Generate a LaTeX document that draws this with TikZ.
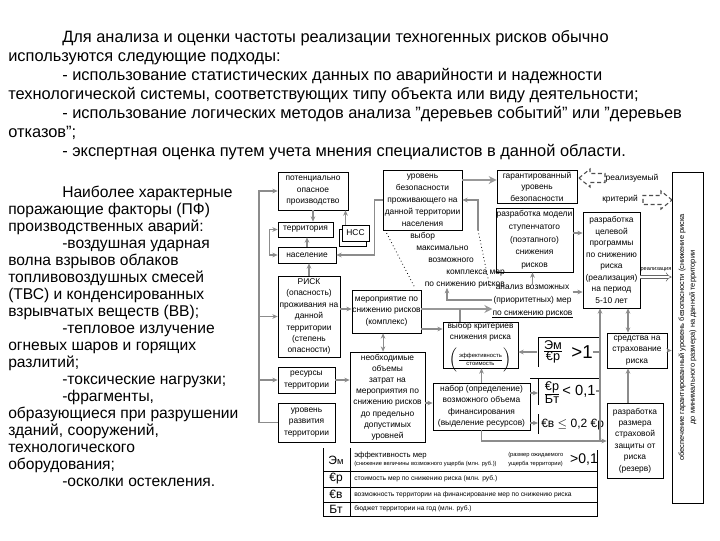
\documentclass[tikz,border=0pt]{standalone}
\usepackage{fontspec}
\setmainfont{Liberation Sans}
\usetikzlibrary{arrows.meta}

\tikzset{
  sz/.style 2 args={minimum width=#1*0.75pt, minimum height=#2*0.75pt},
  blk/.style={draw, line width=0.5pt, fill=white, inner sep=0pt, align=center, font=\fontsize{6.3}{8.6}\selectfont},
  lbl/.style={inner sep=0pt, align=center, font=\fontsize{6.3}{8.6}\selectfont},
  ptxt/.style={anchor=base west, inner sep=0pt, font=\fontsize{12.3}{14}\selectfont},
  ltxt/.style={anchor=base west, inner sep=0pt, font=\fontsize{11.7}{13}\selectfont},
  rowt/.style={anchor=west, inner sep=0pt, font=\fontsize{5}{6}\selectfont},
  sym/.style={inner sep=0pt, font=\fontsize{9}{10}\selectfont},
  ln/.style={draw=black!45, line width=0.8pt},
  arr/.style={ln, ->},
  biarr/.style={ln, <->},
  thkarr/.style={draw=black!40, line width=2pt, -{Stealth[length=6pt,width=6pt]}},
  frm/.style={draw=black, line width=0.5pt},
  holarrow/.style={draw=black!70, densely dashed, line width=0.8pt}
}

\begin{document}
\begin{tikzpicture}[x=0.75pt, y=-0.75pt, >={Stealth[length=4pt,width=3.5pt]}]
\useasboundingbox (0,0) rectangle (720,540);

% text above the scheme
\node[ptxt] (p1) at (62,42) {Для анализа и оценки частоты реализации техногенных рисков обычно};
\node[ptxt] (p2) at (8,61) {используются следующие подходы:};
\node[ptxt] (p3) at (62,80) {- использование статистических данных по аварийности и надежности};
\node[ptxt] (p4) at (8,99) {технологической системы, соответствующих типу объекта или виду деятельности;};
\node[ptxt] (p5) at (62,118) {- использование логических методов анализа "деревьев событий" или "деревьев};
\node[ptxt] (p6) at (8,137) {отказов";};
\node[ptxt] (p7) at (62,156) {- экспертная оценка путем учета мнения специалистов в данной области.};

% left column
\node[ltxt] (l0) at (62,197) {Наиболее характерные};
\node[ltxt] (l1) at (8,214) {поражающие факторы (ПФ)};
\node[ltxt] (l2) at (8,231) {производственных аварий:};
\node[ltxt] (l3) at (62,248) {-воздушная ударная};
\node[ltxt] (l4) at (8,265) {волна взрывов облаков};
\node[ltxt] (l5) at (8,282) {топливовоздушных смесей};
\node[ltxt] (l6) at (8,299) {(ТВС) и конденсированных};
\node[ltxt] (l7) at (8,316) {взрывчатых веществ (ВВ);};
\node[ltxt] (l8) at (62,333) {-тепловое излучение};
\node[ltxt] (l9) at (8,350) {огневых шаров и горящих};
\node[ltxt] (l10) at (8,367) {разлитий;};
\node[ltxt] (l11) at (62,384) {-токсические нагрузки;};
\node[ltxt] (l12) at (62,401) {-фрагменты,};
\node[ltxt] (l13) at (8,418) {образующиеся при разрушении};
\node[ltxt] (l14) at (8,435) {зданий, сооружений,};
\node[ltxt] (l15) at (8,452) {технологического};
\node[ltxt] (l16) at (8,469) {оборудования;};
\node[ltxt] (l17) at (62,486) {-осколки остекления.};

% boxes
\node[blk, sz={70}{38}] (pop) at (313,191) {потенциально\\опасное\\производство};
\node[blk, sz={55}{15}] (terr) at (305.5,229.5) {территория};
\draw[frm, fill=white] (339,229) rectangle (366,246);
\node[blk, sz={27}{16}] (nss) at (355.5,233) {НСС};
\node[blk, sz={58}{16}] (nas) at (307,255) {население};
\node[blk, sz={62}{81}] (risk) at (309,316.5) {РИСК\\(опасность)\\проживания на\\данной\\территории\\(степень\\опасности)};
\node[blk, sz={57}{26}] (res) at (306.5,380) {ресурсы\\территории};
\node[blk, sz={57}{39}] (dev) at (306.5,422.5) {уровень\\развития\\территории};
\node[blk, sz={79}{60}, font=\fontsize{6.3}{9}\selectfont] (lvl) at (422.5,200) {уровень\\безопасности\\проживающего на\\данной территории\\населения};
\node[blk, sz={69}{43}] (mer) at (386.5,311.5) {мероприятие по\\снижению рисков\\(комплекс)};
\node[blk, sz={75}{90}, font=\fontsize{6.3}{8.4}\selectfont] (need) at (387.5,397) {необходимые\\объемы\\затрат на\\мероприятия по\\снижению рисков\\до предельно\\допустимых\\уровней};
\node[blk, sz={75}{46}] (vyb) at (480.5,345) {};
\node[lbl, font=\fontsize{6.2}{8}\selectfont] (vybt) at (480.5,332) {выбор критериев\\снижения риска};
\node[lbl, font=\fontsize{4.4}{5}\selectfont] (vybf) at (480.5,360) {$\bigl(\frac{\mbox{эффективность}}{\mbox{стоимость}}\bigr)$};
\node[blk, sz={97}{47}] (nab) at (481.5,406.5) {набор (определение)\\возможного объема\\финансирования\\(выделение ресурсов)};
\node[blk, sz={77}{64}, font=\fontsize{6.3}{9.5}\selectfont] (mod) at (534.5,240) {разработка модели\\ступенчатого\\(поэтапного)\\снижения\\рисков};
\node[lbl, font=\fontsize{6.3}{9.5}\selectfont] (anl) at (532.5,301) {анализ возможных\\(приоритетных) мер\\по снижению рисков};
\draw[frm] (anl.south west) -- (anl.south east);
\node[blk, sz={80}{33}] (gar) at (537,186.5) {гарантированный\\уровень\\безопасности};
\node[blk, sz={57}{96}, font=\fontsize{6.3}{8.6}\selectfont] (prg) at (611.5,260) {разработка\\целевой\\программы\\по снижению\\риска\\(реализация)\\на период\\5-10 лет};
\node[blk, sz={60}{35}] (str) at (637,350.5) {средства на\\страхование\\риска};
\node[blk, sz={56}{75}] (rzm) at (635,440.5) {разработка\\размера\\страховой\\защиты от\\риска\\(резерв)};
\node[blk, sz={31}{331}] (big) at (687.5,337.5) {};
\node[lbl, rotate=90, font=\fontsize{5.6}{8}\selectfont] (bigt) at (big.center) {обеспечение гарантированный уровень безопасности (снижение риска\\до минимального размера) на данной территории};

% measures, slanted block
\coordinate (ptl) at (385,230);
\coordinate (ptr) at (478,230);
\coordinate (pbl) at (415,288);
\coordinate (pbr) at (490,288);
\coordinate (pb) at (447,288);
\draw[dotted, line width=0.6pt] (ptl) -- (pbl);
\draw[dotted, line width=0.6pt] (ptr) -- (pbr);
\node[lbl, anchor=north west, align=left, font=\fontsize{6.3}{9}\selectfont] (par) at (410,232) {выбор\\\hspace*{4.5pt}максимально\\\hspace*{13.5pt}возможного\\\hspace*{27pt}комплекса мер\\\hspace*{11pt}по снижению рисков};

% hollow dashed arrows
\node[lbl] (real) at (632,178) {реализуемый};
\coordinate (ha) at (579,178);
\coordinate (hb) at (672,200);
\draw[holarrow] (ha) -- (590,169) -- (590,173.5) -- (605,173.5) -- (605,182.5) -- (590,182.5) -- (590,187) -- (ha);
\node[lbl] (crit) at (620,199) {критерий};
\draw[holarrow] (hb) -- (661,191) -- (661,195.5) -- (643,195.5) -- (643,204.5) -- (661,204.5) -- (661,209) -- (hb);

% criteria
\node[sym, font=\fontsize{9.5}{11}\selectfont] (c1f) at (553,352) {$\frac{\mbox{Эм}}{\mbox{€р}}$};
\node[sym, font=\fontsize{14}{15}\selectfont] (c1g) at (582,352) {>1};
\node[sym, font=\fontsize{9.5}{11}\selectfont] (c2f) at (552,393) {$\frac{\mbox{€р}}{\mbox{Бт}}$};
\node[sym, font=\fontsize{11}{12}\selectfont] (c2g) at (579,391) {< 0,1};
\node[sym, font=\fontsize{9}{10}\selectfont, anchor=west] (c3) at (541,425) {€в $\leq$ 0,2 €р};
\draw[frm] (538,367) -- (538,337) -- (600,337);
\draw[frm] (530,378) -- (600,378);
\draw[frm] (538,378) -- (538,405);
\draw[frm] (538,414) -- (538,434);
\coordinate (c1l) at (537,352);
\coordinate (c2l) at (538,393);
\coordinate (c3l) at (538,423);

% table
\draw[frm] (323,448) -- (323,516) -- (597,516) -- (597,450);
\draw[frm] (350,448) -- (350,516);
\draw[frm] (323,471) -- (597,471);
\draw[frm] (323,487) -- (597,487);
\draw[frm] (323,502) -- (597,502);
\node[sym] (tem) at (336,460) {Э\fontsize{7}{8}\selectfont м};
\node[sym] (tcr) at (336,479) {€р};
\node[sym] (tcv) at (336,494.5) {€в};
\node[sym] (tbt) at (336,509) {Бт};
\node[rowt, font=\fontsize{5.8}{7}\selectfont] (r1a) at (354,455) {эффективность мер};
\node[rowt, font=\fontsize{4.3}{5}\selectfont] (r1b) at (354,463.5) {(снижение величины возможного ущерба (млн. руб.))};
\node[rowt, font=\fontsize{4.3}{5}\selectfont] (r1c) at (508,455) {(размер ожидаемого};
\node[rowt, font=\fontsize{4.3}{5}\selectfont] (r1d) at (508,463.5) {ущерба территории)};
\node[sym, font=\fontsize{10.5}{12}\selectfont] (r1g) at (584,459) {>0,1};
\node[rowt] (r2) at (354,479) {стоимость мер по снижению риска (млн. руб.)};
\node[rowt] (r3) at (354,494.5) {возможность территории на финансирование мер по снижению риска};
\node[rowt] (r4) at (354,509) {бюджет территории на год (млн. руб.)};

% helper levels
\coordinate (lft) at (259,0);
\coordinate (y180) at (0,180);
\coordinate (y233) at (0,233);
\coordinate (y277) at (0,277);
\coordinate (y292) at (0,292);
\coordinate (y300) at (0,300);
\coordinate (y309) at (0,309);
\coordinate (y329) at (0,329);
\coordinate (y403) at (0,403);
\coordinate (jx) at (460,309);
\coordinate (x628) at (628,0);
\coordinate (vl) at (600,441);

% connectors
\draw[arr] (pop.south) -- (pop.south |- terr.north);
\draw[arr] (nas.north) -- (nas.north |- terr.south);
\draw[arr] (risk.north) -- (risk.north |- nas.south);
\draw[arr] ([xshift=-7.5pt]nss.north) -- ([xshift=-7.5pt]nss.north |- pop.south);
\draw[biarr] (terr.west) -- ++(-8,0) |- (nas.west);
\draw[arr] (dev.west) -- (lft |- dev.west) |- (pop.west);
\draw[arr] (lft |- risk.west) -- (risk.west);
\draw[arr] (lft |- res.west) -- (res.west);
\draw[arr] (lvl.west) -- ++(-8,0) |- (nas.east);
\draw[thkarr] (lvl.east |- y180) -- (gar.west |- y180);
\draw[arr] (ptr) |- (lvl.east);
\draw[arr] (risk.east |- y309) -- (mer.west |- y309);
\draw[arr] (res.east) -- (res.east -| need.west);
\draw[biarr] ([xshift=-2.6pt]mer.south) -- ([xshift=-2.6pt]mer.south |- need.north);
\draw[thkarr] (mer.east |- y309) -- (anl.west |- y309);
\draw[arr] (anl.west |- y300) -| (pb);
\draw[ln] (jx) -- (jx |- vyb.north);
\draw[arr] (mer.east |- y329) -- (vyb.west |- y329);
\draw[arr] (need.east |- y403) -- (nab.west |- y403);
\draw[arr] (nab.north) -- (nab.north |- vyb.south);
\draw[arr] (anl.north) -- (anl.north |- mod.south);
\draw[arr] (mod.east |- y233) -- (prg.west |- y233);
\draw[arr] (anl.east |- y292) -- (prg.west |- y292);
\draw[draw=black!60, double, double distance=2pt, -{Implies}] (prg.east |- y277) -- (big.west |- y277);
\node[lbl, font=\fontsize{4.2}{5}\selectfont] (realz) at (656,270) {реализация};
\draw[biarr] (x628 |- prg.south) -- (x628 |- str.north);
\draw[arr] (x628 |- rzm.north) -- (x628 |- str.south);
\draw[arr] (str.east) -- (str.east -| big.west);
\draw[arr] (c1l) -- (c1l -| vyb.east);
\draw[arr] (nab.east |- c2l) -- (c2l);
\draw[arr] (nab.east |- c3l) -- (c3l);
\draw[ln] (c1g.east) -- (c1g.east -| vl);
\draw[ln] (c2g.east) -- (c2g.east -| vl);
\draw[arr] (vl) -- (vl |- prg.south);
\draw[arr] (nab.south) |- (rzm.west |- vl);
\end{tikzpicture}
\end{document}
